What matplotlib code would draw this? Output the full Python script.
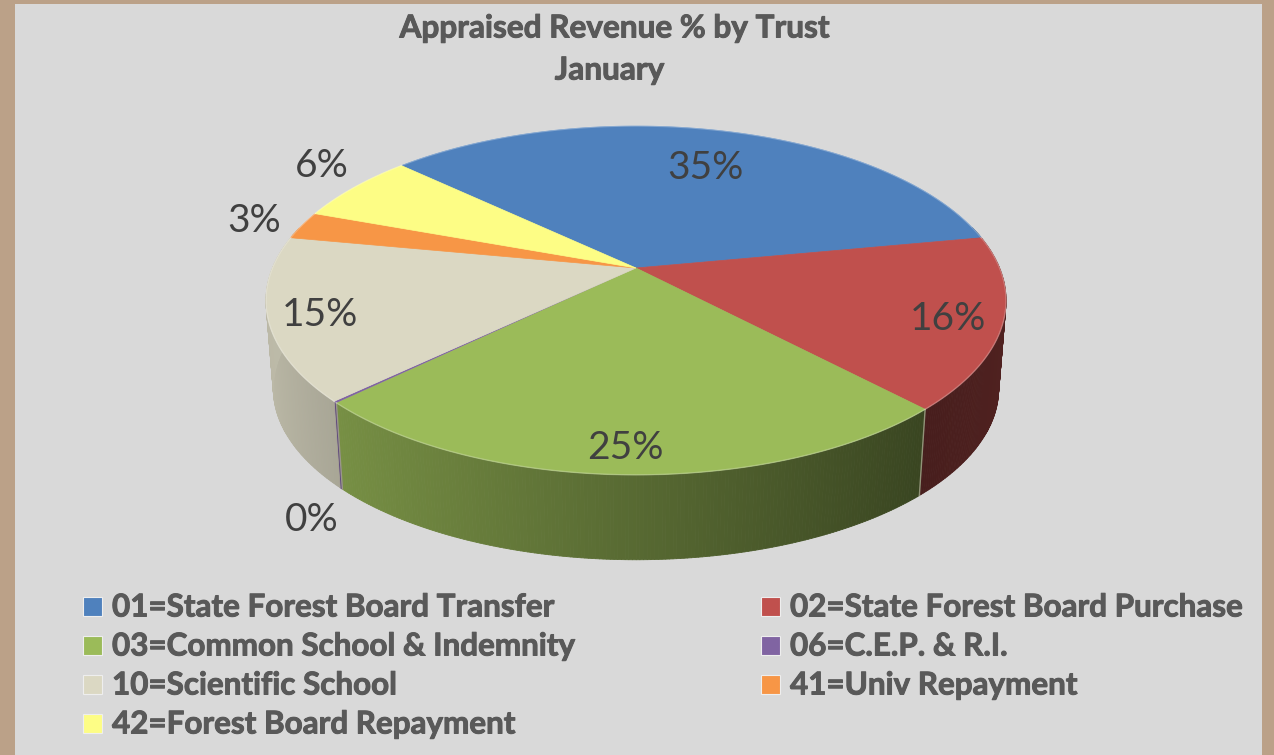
import numpy as np
import matplotlib
matplotlib.use("Agg")
import matplotlib.pyplot as plt
import matplotlib.patheffects as pe
from matplotlib.collections import PolyCollection
from matplotlib.patches import Polygon, Rectangle
from matplotlib.colors import to_rgb

# ---------- data ----------
trusts = ["01=State Forest Board Transfer", "02=State Forest Board Purchase",
          "03=Common School & Indemnity", "06=C.E.P. & R.I.",
          "10=Scientific School", "41=Univ Repayment", "42=Forest Board Repayment"]
shares = [35.0, 15.9, 24.8, 0.15, 15.1, 2.6, 6.45]
colors = ["#4F81BD", "#C0504D", "#9BBB59", "#8064A2", "#DBD8C3", "#F79646", "#FDFD85"]
title_lines = ["Appraised Revenue % by Trust", "January"]

# ---------- layout (pixels) ----------
W, H = 1274, 755
CX, CY = 636, 268
R, C, K = 363.6, 168.4, 0.186     # perspective of the top disc
START = 136.7
WALL_DROP, WALL_SCALE = 89, 0.98
label_xy = [(705, 168), (948, 319), (625, 448), (312, 520), (320, 315), (254, 221), (322, 166)]
legend_xy = [(83, 606), (761, 606), (83, 645), (761, 645), (83, 684), (761, 684), (83, 723)]

fig = plt.figure(figsize=(W / 100, H / 100), dpi=100, facecolor="#BBA188")
ax = fig.add_axes([0, 0, 1, 1])
ax.set_xlim(0, W)
ax.set_ylim(H, 0)
ax.axis("off")
ax.add_patch(Rectangle((15, 4), 1247, 751, fc="#D9D9D9", ec="none", zorder=0))


def top(theta):
    u, v = np.cos(theta), np.sin(theta)
    w = 1 + K * v
    return CX + R * u / w, CY - C * v / w


def bottom(theta):
    x, y = top(theta)
    return CX + WALL_SCALE * (x - CX), CY + WALL_SCALE * (y - CY) + WALL_DROP


def shade(theta):
    return np.interp(np.cos(theta), [-1, -0.727, 0.685, 1], [0.86, 0.77, 0.37, 0.42])


fractions = np.array(shares) / sum(shares)
edges = np.radians(START) - 2 * np.pi * np.concatenate([[0], np.cumsum(fractions)])

# side wall, front half only
quads, quad_cols = [], []
for i in range(len(shares)):
    th = np.linspace(edges[i], edges[i + 1], max(3, int(abs(edges[i + 1] - edges[i]) * 120)))
    base = np.array(to_rgb(colors[i]))
    for a, b in zip(th[:-1], th[1:]):
        m = 0.5 * (a + b)
        if np.sin(m) > 0.25:
            continue
        xa, ya = top(a); xb, yb = top(b)
        xc, yc = bottom(b); xd, yd = bottom(a)
        quads.append([(xa, ya), (xb, yb), (xc, yc), (xd, yd)])
        quad_cols.append(base * shade(m))
ax.add_collection(PolyCollection(quads, facecolors=quad_cols, edgecolors=quad_cols,
                                 linewidths=0.6, zorder=2))

# seams between wall segments
for i in [2, 3]:
    xa, ya = top(edges[i])
    xb, yb = bottom(edges[i])
    ax.plot([xa, xb], [ya, yb], color="#A8A88F", lw=1.0, alpha=0.8, zorder=3)

# top disc
for i in range(len(shares)):
    th = np.linspace(edges[i], edges[i + 1], 200)
    xs, ys = top(th)
    pts = np.column_stack([np.r_[CX, xs], np.r_[CY, ys]])
    edge = colors[i] if shares[i] >= 1 else "none"
    ax.add_patch(Polygon(pts, closed=True, fc=colors[i], ec=edge, lw=0.5, zorder=4))
    ax.plot(xs, ys, color="white", lw=1.0, alpha=0.25, zorder=5)

# data labels
for share, (x, y) in zip(shares, label_xy):
    ax.text(x, y, f"{share:.0f}%", ha="center", va="center", family="Lato",
            fontsize=28, color="#404040", zorder=6)

# heavier strokes, as in the reference
heavy = [pe.withStroke(linewidth=0.7, foreground="#595959")]

# title
ax.text(614.5, 28, title_lines[0], ha="center", va="center", family="Lato",
        weight="bold", fontsize=22.7, color="#595959", path_effects=heavy)
ax.text(609.5, 70, title_lines[1], ha="center", va="center", family="Lato",
        weight="bold", fontsize=22.7, color="#595959", path_effects=heavy)

# legend
for name, col, (x, y) in zip(trusts, colors, legend_xy):
    ax.add_patch(Rectangle((x, y - 9.5), 19, 19, fc=col, ec="#EEEEEE", lw=0.8, zorder=6))
    ax.text(x + 29, y + 1.5, name, ha="left", va="center", family="Lato",
            weight="bold", fontsize=22.6, color="#595959", zorder=6, path_effects=heavy)

fig.savefig("out.png", dpi=100, facecolor=fig.get_facecolor())
